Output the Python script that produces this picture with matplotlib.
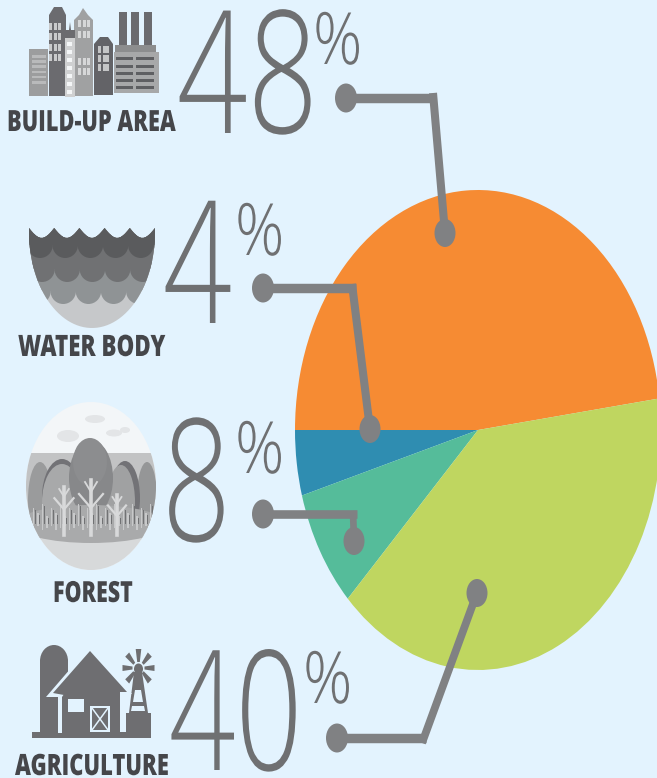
import numpy as np
import matplotlib
matplotlib.use("Agg")
import matplotlib.pyplot as plt
from matplotlib.patches import Ellipse, Polygon, Rectangle
from matplotlib.patheffects import AbstractPathEffect
from matplotlib.transforms import Affine2D

# pie data (slice sizes, labels as printed)
categories = ["BUILD-UP AREA", "WATER BODY", "FOREST", "AGRICULTURE"]
shares = [47.9, 4.4, 8.0, 39.7]
pie_colors = ["#F68B33", "#2F8DB1", "#55BC9A", "#BFD660"]
percent_labels = ["48", "4", "8", "40"]

BG = "#E3F3FE"
NUM = "#6F7072"
LEAD = "#808183"
LABEL = "#45464A"

fig = plt.figure(figsize=(6.57, 7.78), dpi=100, facecolor=BG)
ax = fig.add_axes([0, 0, 1, 1])
ax.set_xlim(0, 657)
ax.set_ylim(778, 0)
ax.axis("off")

# pie is an ellipse in the source, so own axes with aspect auto
cx, cy, rx, ry = 478, 430, 183, 240
pie_ax = fig.add_axes([(cx - rx) / 657, 1 - (cy + ry) / 778, 2 * rx / 657, 2 * ry / 778], zorder=1)
pie_ax.pie(shares, colors=pie_colors, startangle=180 - shares[0] * 3.6, counterclock=True, radius=1)
pie_ax.set_aspect("auto")
pie_ax.set_xlim(-1, 1)
pie_ax.set_ylim(-1, 1)
pie_ax.patch.set_visible(False)

over = fig.add_axes([0, 0, 1, 1], zorder=2)
over.set_xlim(0, 657)
over.set_ylim(778, 0)
over.axis("off")


class Stretch(AbstractPathEffect):
    # source image is stretched vertically, text has to follow it
    def __init__(self, x0, y0, sy):
        super().__init__()
        self.x0, self.y0, self.sy = x0, y0, sy

    def draw_path(self, renderer, gc, tpath, affine, rgbFace=None):
        t = affine + Affine2D().translate(-self.x0, -self.y0).scale(1, self.sy).translate(self.x0, self.y0)
        renderer.draw_path(gc, tpath, t, rgbFace)


def put_text(x, y, s, size, sy, color, weight="normal"):
    px, py = over.transData.transform((x, y))
    t = over.text(x, y, s, fontsize=size, color=color, fontweight=weight, family="Open Sans",
                  ha="left", va="baseline")
    t.set_path_effects([Stretch(px, py, sy)])
    return t


# big numbers
put_text(177, 133, percent_labels[0], 89, 1.38, NUM, "light")
put_text(313, 64, "%", 44, 1.18, NUM, "light")
put_text(163, 323, percent_labels[1], 87, 1.41, NUM, "light")
put_text(235, 255, "%", 44, 1.18, NUM, "light")
put_text(162, 541, percent_labels[2], 87, 1.41, NUM, "light")
put_text(235, 473, "%", 44, 1.18, NUM, "light")
put_text(169, 770, percent_labels[3], 84, 1.43, NUM, "light")
put_text(303, 703, "%", 44, 1.18, NUM, "light")

# category labels
put_text(7, 131, categories[0], 15.7, 1.34, LABEL, "extra bold")
put_text(18, 356, categories[1], 16.1, 1.32, LABEL, "extra bold")
put_text(53, 602, categories[2], 15.4, 1.36, LABEL, "extra bold")
put_text(15, 775, categories[3], 15.8, 1.34, LABEL, "extra bold")

# leader lines: elbow x/y, widths differ because of the stretch
leaders = [
    [(346, 98), (436, 98), (433, 93), (445, 233), 6.8, 5.8],
    [(263, 288), (356, 288), (352, 284), (370, 429), 6.8, 5.8],
    [(263, 514), (357, 514), (353, 511), (354, 541), 6.2, 4.8],
    [(337, 738), (426, 738), (422, 743), (477, 593), 6.8, 5.6],
]
for a, b, c, d, lw_h, lw_s in leaders:
    over.plot([a[0], b[0]], [a[1], b[1]], color=LEAD, lw=lw_h, solid_capstyle="butt")
    over.plot([c[0], d[0]], [c[1], d[1]], color=LEAD, lw=lw_s, solid_capstyle="butt")
    over.add_patch(Ellipse(a, 22, 29, color=LEAD, lw=0))
    over.add_patch(Ellipse(d, 21, 28, color=LEAD, lw=0))


# icons --------------------------------------------------------------
def rect(x0, y0, x1, y1, c, clip=None, z=3):
    r = Rectangle((x0, y0), x1 - x0, y1 - y0, color=c, lw=0, zorder=z)
    ax.add_patch(r)
    if clip is not None:
        r.set_clip_path(clip)
    return r


def poly(pts, c, clip=None, z=3):
    p = Polygon(pts, closed=True, color=c, lw=0, zorder=z)
    ax.add_patch(p)
    if clip is not None:
        p.set_clip_path(clip)
    return p


def oval(x, y, w, h, c, clip=None, z=3):
    e = Ellipse((x, y), w, h, color=c, lw=0, zorder=z)
    ax.add_patch(e)
    if clip is not None:
        e.set_clip_path(clip)
    return e


# buildings
DK = "#6B6B6F"
MID = "#A0A1A2"
rect(29, 49, 48, 96, "#9C9D9E")
for y in np.arange(55, 82, 5.2):
    rect(32, y, 46, y + 2.6, "#B9BABB")
poly([(49, 96), (49, 15), (54, 7), (62, 7), (66, 15), (66, 96)], DK)
for y in (23, 33, 44, 54):
    for x in (49, 53.5, 58):
        rect(x, y, x + 3, y + 7, "#C9CACB")
poly([(74, 96), (74, 20), (79, 15), (83, 8), (88, 15), (93, 20), (93, 96)], MID)
for y in (20, 31, 58, 68):
    for x in (78, 83, 87):
        rect(x, y, x + 3, y + 7, "#D6D7D8")
poly([(65, 97), (65, 30), (69, 30), (70, 22), (71, 30), (75, 30), (75, 97)], DK)
rect(65, 38, 75, 97, "#CFD0D1")
for y in np.arange(42, 92, 8):
    rect(67, y, 72, y + 4, "#F4F6F7")
poly([(94, 95), (94, 44), (100, 37), (108, 37), (113, 44), (113, 95)], "#636367")
for y in (46, 55, 64):
    for x in (98, 103, 106):
        rect(x, y, x + 2.5, y + 7, "#C4C5C6")
for x in (119, 131, 144):
    rect(x, 12, x + 8, 46, DK)
rect(115, 45, 156, 53, "#8C8D8E")
rect(114, 52, 159, 93, "#A7A8A9")
for y in (57, 65, 72, 79, 86):
    rect(116, y, 133, y + 3.4, "#5E5F62")
    rect(136, y, 154, y + 3.4, "#5E5F62")


# water: stacked scalloped layers clipped to a bowl
def bowl_path(cx0=92, top=232, rx0=63, ry0=96, n=5):
    a = np.linspace(0, np.pi, 60)
    low = np.column_stack([cx0 + rx0 * np.cos(a), top + ry0 * np.sin(a)])
    peaks = np.linspace(cx0 - rx0, cx0 + rx0, n + 1)
    top_pts = []
    for p0, p1 in zip(peaks[:-1], peaks[1:]):
        t = np.linspace(0, 1, 12)
        top_pts.append(np.column_stack([p0 + (p1 - p0) * t, top - 4 + 10 * np.sin(np.pi * t)]))
    return np.vstack([low, np.vstack(top_pts)])


bowl = Polygon(bowl_path(), closed=True, transform=ax.transData, fc="#C6C8CA", lw=0, zorder=3)
ax.add_patch(bowl)


def scallop(y, phase, c, z):
    rect(20, 220, 165, y, c, clip=bowl, z=z)
    for x in np.arange(phase, 170, 25.2):
        oval(x, y, 25.5, 26, c, clip=bowl, z=z)


scallop(291, 38, "#8F9395", 4)
scallop(269, 42, "#707173", 5)
scallop(245, 40, "#5A5B5D", 6)

# forest
forest = Ellipse((91, 486), 130, 168, transform=ax.transData, fc="#F3F6F8", lw=0, zorder=3)
ax.add_patch(forest)
rect(20, 453, 165, 540, "#C2C3C4", clip=forest, z=3)
for x, y, w, h in [(68, 436, 22, 12), (95, 419, 20, 8), (114, 433, 16, 7), (125, 430, 10, 6)]:
    oval(x, y, w, h, "#E3E5E7")
for x, y, w, h, c in [
    (40, 500, 24, 76, "#9A9B9C"),
    (147, 498, 20, 72, "#959697"),
    (62, 497, 40, 76, "#727276"),
    (62, 502, 40, 76, "#A8A9AA"),
    (125, 498, 30, 74, "#727276"),
    (121, 502, 28, 74, "#A0A1A2"),
    (91, 478, 44, 76, "#87888A"),
    (90, 462, 34, 48, "#8C8D8F"),
]:
    oval(x, y, w, h, c, clip=forest, z=4)
rect(20, 528, 165, 580, "#D7D9DA", clip=forest, z=4)
oval(91, 524, 150, 38, "#A9AAAB", clip=forest, z=4)
for i, x in enumerate(np.arange(28, 156, 4.5)):
    h = (14, 22, 17, 26)[i % 4]
    rect(x, 530 - h, x + 1.6, 530 - (i % 3) * 2, "#C8C9CA", clip=forest, z=5)
    rect(x + 2, 530 - h + 2, x + 3.4, 524, "#717274", clip=forest, z=5)
for x0, y0, top, s in [(91, 535, 480, 1.0), (64, 535, 487, 0.8), (117, 535, 495, 0.75)]:
    ax.plot([x0, x0], [y0, top], color="#D8D9DA", lw=2.6, zorder=6)
    ax.plot([x0 - 12 * s, x0, x0 + 12 * s], [top + 14 * s, top + 28 * s, top + 14 * s], color="#D8D9DA", lw=1.6, zorder=6)
    ax.plot([x0 - 6 * s, x0, x0 + 6 * s], [top + 2, top + 12 * s, top + 2], color="#D8D9DA", lw=1.3, zorder=6)

# farm
FM = "#6E6E71"
rect(32, 732, 151, 738, FM)
rect(40, 660, 68, 734, FM)
oval(54, 661, 28, 32, FM)
poly([(46, 697), (90, 646), (132, 694), (126, 694), (90, 656), (62, 697), (62, 733), (58, 733), (58, 697)], BG, z=4)
poly([(53, 693), (90, 651), (127, 692), (120, 692), (120, 733), (64, 733), (64, 695)], FM, z=4)
rect(68, 699, 84, 712, BG, z=5)
rect(90, 706, 110, 732, BG, z=5)
rect(92, 708, 108, 730, FM, z=5)
ax.plot([92, 108], [708, 730], color=BG, lw=1.1, zorder=6)
ax.plot([108, 92], [708, 730], color=BG, lw=1.1, zorder=6)
rect(126, 713, 151, 733, FM)
poly([(134, 672), (142, 672), (148, 713), (129, 713)], FM)
poly([(135, 690), (141, 690), (143, 702), (133, 702)], BG, z=4)
poly([(132, 706), (144, 706), (145, 711), (131, 711)], BG, z=4)
for ang in np.arange(0, 360, 45):
    a = np.deg2rad(ang)
    ux, uy = np.sin(a), -np.cos(a)
    tx, ty = -uy, ux
    pts = [(138.5 + ux * 6 + tx * 1.3, 668 + uy * 6 + ty * 1.5),
           (138.5 + ux * 16 + tx * 2.8, 668 + uy * 19 + ty * 3),
           (138.5 + ux * 16 - tx * 2.8, 668 + uy * 19 - ty * 3),
           (138.5 + ux * 6 - tx * 1.3, 668 + uy * 6 - ty * 1.5)]
    poly(pts, FM)
oval(138.5, 669, 9, 11, FM)

fig.savefig("out.png", dpi=100, facecolor=BG)
